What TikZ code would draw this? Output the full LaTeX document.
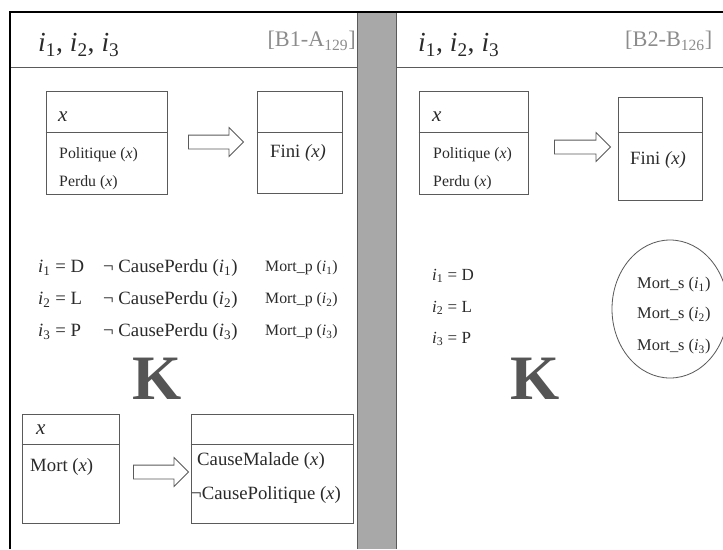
\documentclass[tikz,border=0pt]{standalone}
\usepackage{fontspec}
\setmainfont{Liberation Serif}
\usetikzlibrary{shapes.arrows, shapes.geometric, positioning}
\usepackage{xcolor}
\definecolor{linegray}{HTML}{5A5A5A}
\definecolor{bargray}{HTML}{A8A8A8}
\definecolor{labelgray}{HTML}{8C8C8C}
\definecolor{kgray}{HTML}{555555}
\definecolor{ink}{HTML}{2A2A2A}
\newcommand{\px}{0.03cm}
\newcommand{\iv}[1]{\textit{i}\textsubscript{#1}}

\begin{document}
\begin{tikzpicture}[x=0.03cm,y=-0.03cm]
    \tikzstyle{box}=[shape=rectangle,draw=linegray,line width=0.7pt,inner sep=0pt]
    \tikzstyle{blockarrow}=[single arrow,draw=linegray,line width=0.7pt,inner sep=0pt,inner ysep=6.5*\px,single arrow head extend=7.5*\px,minimum height=55*\px]
    \tikzstyle{txt}=[anchor=west,inner sep=0pt,text=ink]
    \tikzstyle{head}=[txt,font=\fontsize{23.5}{27}\selectfont]
    \tikzstyle{tag}=[inner sep=0pt,text=labelgray,font=\fontsize{19}{22}\selectfont]
    \tikzstyle{var}=[txt,font=\fontsize{18}{20}\selectfont\itshape]
    \tikzstyle{small}=[txt,font=\fontsize{13.5}{15}\selectfont]
    \tikzstyle{mid}=[txt,font=\fontsize{16}{18}\selectfont]
    \tikzstyle{bigk}=[inner sep=0pt,text=kgray,font=\fontsize{54}{58}\selectfont\bfseries]

    \clip (0,0) rectangle (723,549);
    \fill[white] (0,0) rectangle (723,549);

    % frame and separating bar
    \fill[bargray] (357,12) rectangle (396,549);
    \draw[linegray] (357,12) -- (357,549);
    \draw[linegray] (396,12) -- (396,549);
    \draw[linegray] (10,67) -- (357,67);
    \draw[linegray] (396,67) -- (723,67);
    \draw[line width=1.6pt] (10,549) -- (10,12) -- (723,12);

    % left panel
    \node[head] (H0) at (38,45) {\iv{1}, \iv{2}, \iv{3}};
    \node[tag, anchor=east] (T0) at (356,41) {[B1-A\textsubscript{129}]};

    \node[box, minimum width=121*\px, minimum height=103*\px] (A0) at (106.5,142.5) {};
    \draw[linegray, line width=0.7pt] ([yshift=-42*\px]A0.north west) -- ([yshift=-42*\px]A0.north east);
    \node[var] (A0x) at (58,117) {x};
    \node[small] (A0a) at (59,155) {Politique (\textit{x})};
    \node[small] (A0b) at (59,183) {Perdu (\textit{x})};
    \node[blockarrow] (R0) at (212.5,142) {};
    \node[box, minimum width=85*\px, minimum height=102*\px] (B0) at (299.5,142) {};
    \draw[linegray, line width=0.7pt] ([yshift=-42*\px]B0.north west) -- ([yshift=-42*\px]B0.north east);
    \node[mid] (B0a) at (270,153) {Fini \textit{(x)}};

    \node[mid] (E1) at (38,268) {\iv{1} = D};
    \node[mid] (E2) at (38,300) {\iv{2} = L};
    \node[mid] (E3) at (38,332) {\iv{3} = P};
    \node[mid] (N1) at (103,268) {¬ CausePerdu (\iv{1})};
    \node[mid] (N2) at (103,300) {¬ CausePerdu (\iv{2})};
    \node[mid] (N3) at (103,332) {¬ CausePerdu (\iv{3})};
    \node[small] (P1) at (265,268) {Mort\_p (\iv{1})};
    \node[small] (P2) at (265,300) {Mort\_p (\iv{2})};
    \node[small] (P3) at (265,332) {Mort\_p (\iv{3})};
    \node[bigk] (K0) at (157,379) {K};

    \node[box, minimum width=97*\px, minimum height=109*\px] (C0) at (70.5,468.5) {};
    \draw[linegray, line width=0.7pt] ([yshift=-31*\px]C0.north west) -- ([yshift=-31*\px]C0.north east);
    \node[var] (C0x) at (36,430) {x};
    \node[mid] (C0a) at (30,467) {Mort (\textit{x})};
    \node[blockarrow] (R1) at (157.5,472) {};
    \node[box, minimum width=162*\px, minimum height=109*\px] (D0) at (272,468.5) {};
    \draw[linegray, line width=0.7pt] ([yshift=-31*\px]D0.north west) -- ([yshift=-31*\px]D0.north east);
    \node[mid] (D0a) at (197,461) {CauseMalade (\textit{x})};
    \node[mid] (D0b) at (191,495) {¬CausePolitique (\textit{x})};

    % right panel
    \node[head] (H1) at (418,45) {\iv{1}, \iv{2}, \iv{3}};
    \node[tag, anchor=west] (T1) at (625,41) {[B2-B\textsubscript{126}]};

    \node[box, minimum width=109*\px, minimum height=103*\px] (A1) at (473.5,142.5) {};
    \draw[linegray, line width=0.7pt] ([yshift=-42*\px]A1.north west) -- ([yshift=-42*\px]A1.north east);
    \node[var] (A1x) at (432,117) {x};
    \node[small] (A1a) at (433,155) {Politique (\textit{x})};
    \node[small] (A1b) at (433,183) {Perdu (\textit{x})};
    \node[blockarrow, minimum height=56*\px] (R2) at (579,147) {};
    \node[box, minimum width=84*\px, minimum height=103*\px] (B1) at (660,148.5) {};
    \draw[linegray, line width=0.7pt] ([yshift=-36*\px]B1.north west) -- ([yshift=-36*\px]B1.north east);
    \node[mid] (B1a) at (630,160) {Fini \textit{(x)}};

    \node[small, font=\fontsize{14.5}{17}\selectfont] (F1) at (432,276) {\iv{1} = D};
    \node[small, font=\fontsize{14.5}{17}\selectfont] (F2) at (432,308) {\iv{2} = L};
    \node[small, font=\fontsize{14.5}{17}\selectfont] (F3) at (432,339) {\iv{3} = P};
    \node[bigk] (K1) at (535,379) {K};

    \node[draw=linegray, line width=0.7pt, ellipse, minimum width=116*\px, minimum height=138*\px] (S0) at (670,309) {};
    \node[small, font=\fontsize{14}{17}\selectfont] (S1) at (637,285) {Mort\_s (\iv{1})};
    \node[small, font=\fontsize{14}{17}\selectfont] (S2) at (637,315) {Mort\_s (\iv{2})};
    \node[small, font=\fontsize{14}{17}\selectfont] (S3) at (637,347) {Mort\_s (\iv{3})};
\end{tikzpicture}
\end{document}
